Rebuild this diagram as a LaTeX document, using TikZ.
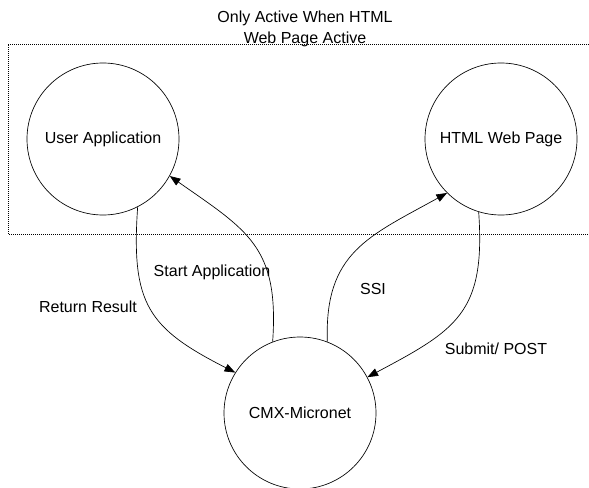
\documentclass[tikz,border=0pt]{standalone}
\usepackage{fontspec}
\setmainfont{Liberation Sans}
\usetikzlibrary{arrows.meta}
\tikzset{> = {Triangle[length=8pt,width=6pt]}}
\tikzset{state/.style={draw, circle, minimum size=114pt, inner sep=0pt}}

\begin{document}
\begin{tikzpicture}[x=0.75pt, y=0.75pt, font=\fontsize{12}{16}\selectfont, line width=0.5pt]
		\useasboundingbox (0,0) rectangle (589,487);
		\draw[densely dotted] (589,443)--(8,443)--(8,253)--(589,253);
		\node[align=center] (title) at (305,458) {Only Active When HTML\\Web Page Active};
		\node[state] (user) at (103,348) {User Application};
		\node[state] (html) at (501,348) {HTML Web Page};
		\node[state] (cmx) at (300,74) {CMX-Micronet};
		\draw[->] (cmx.111) to[out=86, in=-35, looseness=1.25] (user.-29);
		\draw[->] (user.-63) to[out=-94, in=153, looseness=1.3] (cmx.148);
		\draw[->] (cmx.69) to[out=92, in=-151, looseness=1.2] (html.225);
		\draw[->] (html.-107) to[out=-86, in=28, looseness=1.3] (cmx.28);
		\node (start) at (212,215) {Start Application};
		\node (ret) at (88,180) {Return Result};
		\node (ssi) at (373,198) {SSI};
		\node (post) at (496,138) {Submit/ POST};
		\end{tikzpicture}
\end{document}
